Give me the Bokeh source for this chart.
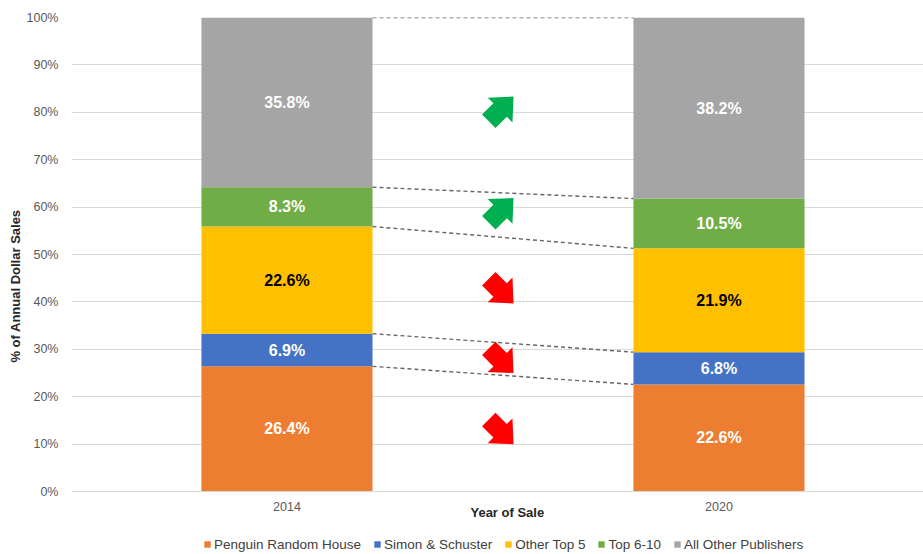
import math
from bokeh.plotting import figure
from bokeh.models import (FixedTicker, PrintfTickFormatter, Legend, LegendItem,
                          ColumnDataSource, Range1d, Label)
from bokeh.embed import file_html
from bokeh.resources import INLINE
from bokeh.core.properties import value

# ---------------- data ----------------
years = ["2014", "2020"]
publishers = ["Penguin Random House", "Simon & Schuster", "Other Top 5",
              "Top 6-10", "All Other Publishers"]
share_2014 = [26.4, 6.9, 22.6, 8.3, 35.8]
share_2020 = [22.6, 6.8, 21.9, 10.5, 38.2]
colors = ["#ED7D31", "#4472C4", "#FFC000", "#70AD47", "#A5A5A5"]
label_colors = ["white", "white", "black", "white", "white"]
y_ticks = list(range(0, 101, 10))
arrow_y = [13.3, 28.3, 43.0, 58.6, 80.0]   # vertical centres of the trend arrows (% axis)

# ---------------- layout ----------------
W, H = 923, 554
ML, MR, MT, MB = 71, 0, 17, 0
x_start, x_end = -0.4988, 1.4734
y_start, y_end = -13.29, 100      # room below 0% for tick labels, axis title and legend
bar_w = 0.396
FONT = "Liberation Sans"

p = figure(width=W, height=H, x_range=Range1d(x_start, x_end), y_range=Range1d(y_start, y_end),
           min_border_left=ML, min_border_right=MR, min_border_top=MT, min_border_bottom=MB,
           toolbar_location=None, output_backend="svg", outline_line_color=None)
p.background_fill_color = "white"
p.border_fill_color = "white"

frame_w = W - ML - MR
frame_h = H - MT - MB
px_x = frame_w / (x_end - x_start)
px_y = frame_h / (y_end - y_start)

# ---------------- bars ----------------
xs = [0, 1]
renderers = []
cum14, cum20 = 0.0, 0.0
bounds14, bounds20 = [], []
mids14, mids20 = [], []
for i, name in enumerate(publishers):
    b = [cum14, cum20]
    t = [cum14 + share_2014[i], cum20 + share_2020[i]]
    src = ColumnDataSource(dict(x=xs, bottom=b, top=t))
    r = p.vbar(x="x", bottom="bottom", top="top", width=bar_w, source=src,
               fill_color=colors[i], line_color=None)
    renderers.append(r)
    mids14.append((b[0] + t[0]) / 2)
    mids20.append((b[1] + t[1]) / 2)
    cum14, cum20 = t
    bounds14.append(cum14)
    bounds20.append(cum20)

# segment labels
lx, ly, lt, lc = [], [], [], []
for i in range(len(publishers)):
    for j, (vals, mids) in enumerate([(share_2014, mids14), (share_2020, mids20)]):
        lx.append(xs[j]); ly.append(mids[i]); lt.append(f"{vals[i]:.1f}%"); lc.append(label_colors[i])
p.text(x=lx, y=ly, text=lt, text_color=lc, text_font=value(FONT), text_font_style="bold",
       text_font_size="16px", text_align="center", text_baseline="middle")

# dashed connectors
p.segment(x0=[xs[0] + bar_w / 2] * len(bounds14), y0=bounds14,
          x1=[xs[1] - bar_w / 2] * len(bounds20), y1=bounds20,
          line_color="#666666", line_width=1.4, line_dash="4 3")

# trend arrows (block arrows, rotated 45 degrees)
shape = [(-15, -9.5), (1, -9.5), (1, -17.5), (20, 0), (1, 17.5), (1, 9.5), (-15, 9.5)]
ax_c = 0.488
pxs, pys, pcol = [], [], []
for i in range(len(publishers)):
    up = share_2020[i] > share_2014[i]
    th = math.radians(45 if up else -45)
    pts = [(x * math.cos(th) - y * math.sin(th), x * math.sin(th) + y * math.cos(th)) for x, y in shape]
    cx = (min(q[0] for q in pts) + max(q[0] for q in pts)) / 2
    cy = (min(q[1] for q in pts) + max(q[1] for q in pts)) / 2
    pxs.append([ax_c + (q[0] - cx) / px_x for q in pts])
    pys.append([arrow_y[i] + (q[1] - cy) / px_y for q in pts])
    pcol.append("#00B050" if up else "#FF0000")
p.patches(xs=pxs, ys=pys, fill_color=pcol, line_color=None)

# ---------------- axes ----------------
p.yaxis.ticker = FixedTicker(ticks=y_ticks)
p.yaxis.formatter = PrintfTickFormatter(format="%d%%")
p.yaxis.axis_line_color = None
p.yaxis.major_tick_line_color = None
p.yaxis.minor_tick_line_color = None
p.yaxis.major_tick_out = 0
p.yaxis.major_tick_in = 0
p.yaxis.major_label_standoff = 13
p.yaxis.major_label_text_font = FONT
p.yaxis.major_label_text_font_size = "12.5px"
p.yaxis.major_label_text_color = "#595959"
p.yaxis.axis_label = "% of Annual Dollar Sales"
p.yaxis.axis_label_text_font = FONT
p.yaxis.axis_label_text_font_style = "bold"
p.yaxis.axis_label_text_font_size = "13px"
p.yaxis.axis_label_text_color = "#262626"
p.yaxis.axis_label_standoff = 1

xa = p.xaxis[0]
xa.fixed_location = 0           # category axis sits on the 0% line
xa.ticker = FixedTicker(ticks=xs)
xa.major_label_overrides = {0: years[0], 1: years[1]}
xa.axis_line_color = "#D9D9D9"
xa.major_tick_line_color = None
xa.minor_tick_line_color = None
xa.major_tick_out = 0
xa.major_tick_in = 0
xa.major_label_standoff = 10
xa.major_label_text_font = FONT
xa.major_label_text_font_size = "12.5px"
xa.major_label_text_color = "#595959"

p.xgrid.visible = False
p.ygrid.ticker = FixedTicker(ticks=y_ticks)
p.ygrid.grid_line_color = "#D9D9D9"

p.add_layout(Label(x=0.51, y=-4.4, text="Year of Sale", text_font=FONT, text_font_style="bold",
                   text_font_size="13px", text_color="#262626", text_align="center",
                   text_baseline="middle"))

legend = Legend(items=[LegendItem(label=n, renderers=[r]) for n, r in zip(publishers, renderers)],
                orientation="horizontal", location=(132, 2), padding=0, margin=0,
                border_line_color=None, background_fill_alpha=0,
                glyph_width=8, glyph_height=8, label_standoff=3, spacing=12,
                label_text_font=FONT, label_text_font_size="13.5px",
                label_text_color="#404040", label_height=16)
p.add_layout(legend)

open("out.html", "w").write(file_html(p, INLINE))
